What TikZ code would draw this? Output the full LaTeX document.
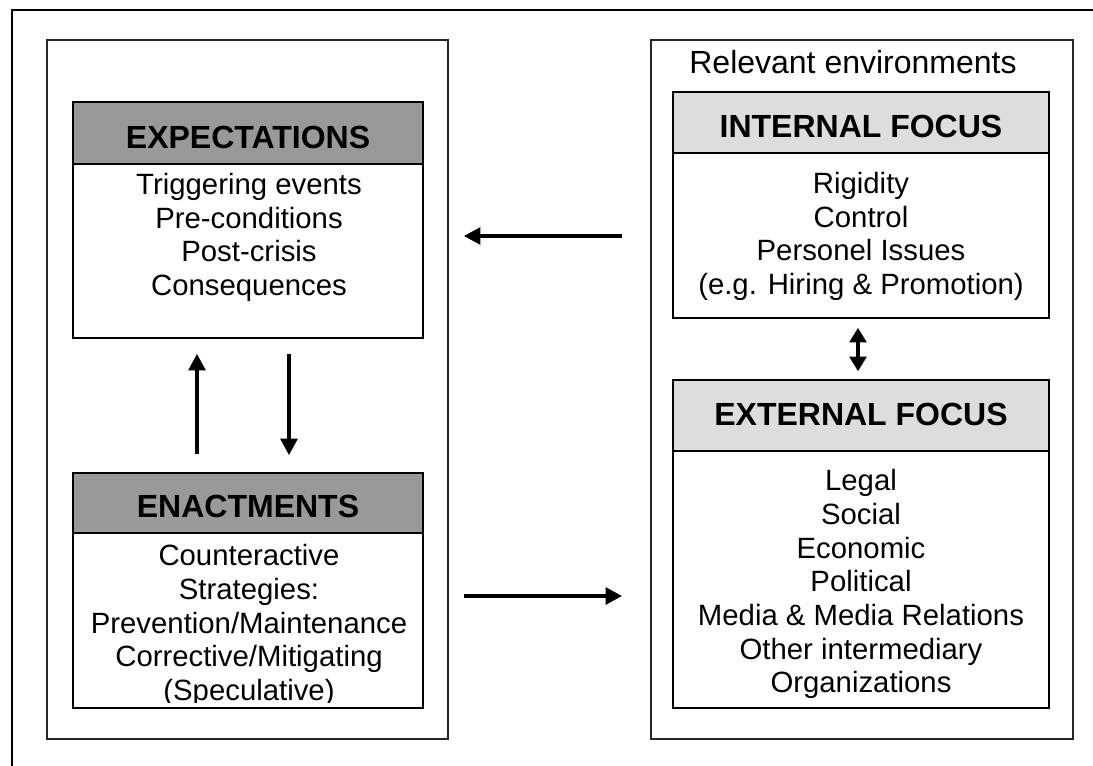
\documentclass[tikz,border=0pt]{standalone}
\usepackage{fontspec}
\setmainfont{Liberation Sans}
\usetikzlibrary{arrows.meta,fit}

\definecolor{headdark}{RGB}{153,153,153}
\definecolor{headlight}{RGB}{221,221,221}

\tikzset{
  frame/.style={draw=black, line width=1.5pt},
  holder/.style={draw=black!85, line width=1.2pt, inner sep=0pt},
  box/.style={draw, line width=1.1pt, fill=white, inner sep=0pt},
  darkhead/.style={box, fill=headdark},
  lighthead/.style={box, fill=headlight},
  title/.style={font=\fontsize{24}{28}\selectfont\bfseries, anchor=base, inner sep=0pt},
  body/.style={font=\fontsize{22}{25.3}\selectfont, align=center, anchor=north, inner sep=0pt},
  flow/.style={line width=3pt, -{Triangle[length=12.5pt,width=12.5pt]}},
  twoway/.style={line width=3pt, {Triangle[length=11pt,width=12.5pt]}-{Triangle[length=11pt,width=12.5pt]}},
}

\begin{document}
\begin{tikzpicture}[x=0.75pt,y=0.75pt,yscale=-1,xscale=1]
\useasboundingbox (0,0) rectangle (1093,765);
\clip (0,0) rectangle (1093,765);

%Shape: Outer frame
\draw[frame] (12,10) rectangle (1120,790);

%Shape: Containers
\node[holder, fit={(47,40) (448,739)}] (leftbox) {};
\node[holder, fit={(651,40) (1073,739)}] (envbox) {};

%Shape: Expectations
\node[box, fit={(73,102) (423,338)}] (expect) {};
\node[darkhead, fit={(73,102) (423,164)}] (expecthead) {};
\node[title] (expecttitle) at (248,148) {EXPECTATIONS};
\node[body] (expecttext) at (249,173) {Triggering events\\Pre-conditions\\Post-crisis\\Consequences};

%Shape: Enactments
\node[box, fit={(73,473) (423,708)}] (enact) {};
\node[darkhead, fit={(73,473) (423,533)}] (enacthead) {};
\node[title] (enacttitle) at (248,517) {ENACTMENTS};
\begin{scope}
\clip (73,473) rectangle (423,702);
\node[body] (enacttext) at (249,544) {Counteractive\\Strategies:\\Prevention/Maintenance\\Corrective/Mitigating\\(Speculative)};
\end{scope}

% Text Node
\node[anchor=base, font=\fontsize{24}{28}\selectfont, inner sep=0pt] (envlabel) at (853,73) {Relevant environments};

%Shape: Internal focus
\node[box, fit={(673,92) (1049,318)}] (internal) {};
\node[lighthead, fit={(673,92) (1049,153)}] (internalhead) {};
\node[title] (internaltitle) at (861,137) {INTERNAL FOCUS};
\node[body] (internaltext) at (861,172) {Rigidity\\Control\\Personel Issues\\(e.g. Hiring \& Promotion)};

%Shape: External focus
\node[box, fit={(673,380) (1049,708)}] (external) {};
\node[lighthead, fit={(673,380) (1049,451)}] (externalhead) {};
\node[title] (externaltitle) at (861,425) {EXTERNAL FOCUS};
\node[body] (externaltext) at (861,469) {Legal\\Social\\Economic\\Political\\Media \& Media Relations\\Other intermediary\\Organizations};

%Arrows
\coordinate (upperrow) at (0,236);
\coordinate (lowerrow) at (0,596);
\coordinate (upcol) at (197,0);
\coordinate (downcol) at (289,0);
\draw[flow, shorten <=21pt, shorten >=11.25pt] (envbox.west |- upperrow) -- (leftbox.east |- upperrow);
\draw[flow, shorten <=11.25pt, shorten >=21pt] (leftbox.east |- lowerrow) -- (envbox.west |- lowerrow);
\draw[flow, shorten <=13.5pt, shorten >=11.25pt] (enact.north -| upcol) -- (expect.south -| upcol);
\draw[flow, shorten <=11.25pt, shorten >=12.75pt] (expect.south -| downcol) -- (enact.north -| downcol);
\draw[twoway, shorten <=6.75pt, shorten >=6pt] ([xshift=-2.25pt]internal.south) -- ([xshift=-2.25pt]external.north);

\end{tikzpicture}
\end{document}
